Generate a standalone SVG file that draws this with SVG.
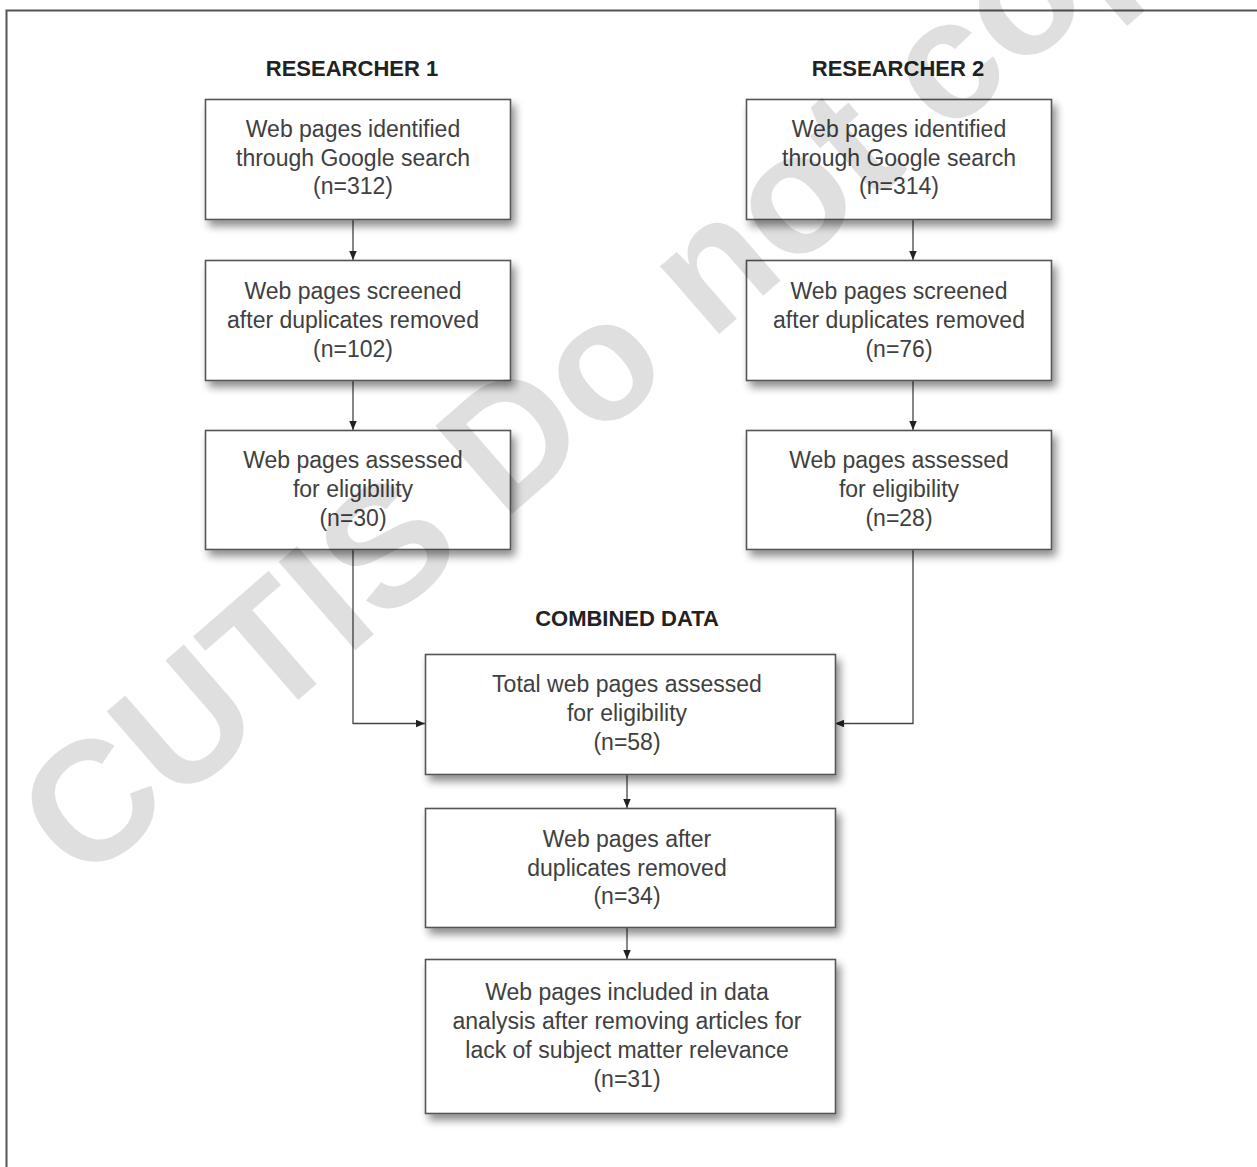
<svg xmlns="http://www.w3.org/2000/svg" width="1257" height="1167" viewBox="0 0 1257 1167">
<style>
.box{fill:#fff;stroke:#555;stroke-width:1.6}
.t{font-family:"Liberation Sans",Arial,sans-serif;font-size:23px;fill:#404040;text-anchor:middle}
.h{font-family:"Liberation Sans",Arial,sans-serif;font-size:22px;font-weight:bold;fill:#222;text-anchor:middle}
.c{fill:none;stroke:#444;stroke-width:1.3}
.wm{font-family:"Liberation Sans",Arial,sans-serif;font-size:170px;font-weight:bold;fill:#000;fill-opacity:0.125}
</style>
<defs>
<filter id="sh" x="-10%" y="-10%" width="130%" height="140%">
<feGaussianBlur in="SourceAlpha" stdDeviation="4"/>
<feOffset dx="4" dy="6" result="b"/>
<feComponentTransfer><feFuncA type="linear" slope="0.45"/></feComponentTransfer>
<feMerge><feMergeNode/><feMergeNode in="SourceGraphic"/></feMerge>
</filter>
<marker id="ar" markerUnits="userSpaceOnUse" markerWidth="10" markerHeight="8" refX="9" refY="3.75" orient="auto">
<path d="M0,0 L9,3.75 L0,7.5 Z" fill="#222"/>
</marker>
</defs>
<rect width="1257" height="1167" fill="#fff"/>
<path d="M6.5,1167 V10.5 H1257" fill="none" stroke="#555" stroke-width="2"/>

<g id="headings">
<text class="h" x="352" y="76">RESEARCHER 1</text>
<text class="h" x="898" y="76">RESEARCHER 2</text>
<text class="h" x="627" y="626">COMBINED DATA</text>
</g>

<g id="connectors">
<path class="c" d="M353,219 V260" marker-end="url(#ar)"/>
<path class="c" d="M353,380 V430" marker-end="url(#ar)"/>
<path class="c" d="M353,549 V723.5 H425" marker-end="url(#ar)"/>
<path class="c" d="M913,219 V260" marker-end="url(#ar)"/>
<path class="c" d="M913,380 V430" marker-end="url(#ar)"/>
<path class="c" d="M913,549 V723.5 H835" marker-end="url(#ar)"/>
<path class="c" d="M627,774 V808" marker-end="url(#ar)"/>
<path class="c" d="M627,927 V959" marker-end="url(#ar)"/>
</g>

<g id="r1b1"><rect class="box" x="205.5" y="99.5" width="305" height="120" filter="url(#sh)"/>
<text class="t" x="353" y="137">Web pages identified</text><text class="t" x="353" y="166">through Google search</text><text class="t" x="353" y="194">(n=312)</text></g>
<g id="r1b2"><rect class="box" x="205.5" y="260.5" width="305" height="120" filter="url(#sh)"/>
<text class="t" x="353" y="299">Web pages screened</text><text class="t" x="353" y="328">after duplicates removed</text><text class="t" x="353" y="357">(n=102)</text></g>
<g id="r1b3"><rect class="box" x="205.5" y="430.5" width="305" height="119" filter="url(#sh)"/>
<text class="t" x="353" y="468">Web pages assessed</text><text class="t" x="353" y="497">for eligibility</text><text class="t" x="353" y="526">(n=30)</text></g>

<g id="r2b1"><rect class="box" x="746.5" y="99.5" width="305" height="120" filter="url(#sh)"/>
<text class="t" x="899" y="137">Web pages identified</text><text class="t" x="899" y="166">through Google search</text><text class="t" x="899" y="194">(n=314)</text></g>
<g id="r2b2"><rect class="box" x="746.5" y="260.5" width="305" height="120" filter="url(#sh)"/>
<text class="t" x="899" y="299">Web pages screened</text><text class="t" x="899" y="328">after duplicates removed</text><text class="t" x="899" y="357">(n=76)</text></g>
<g id="r2b3"><rect class="box" x="746.5" y="430.5" width="305" height="119" filter="url(#sh)"/>
<text class="t" x="899" y="468">Web pages assessed</text><text class="t" x="899" y="497">for eligibility</text><text class="t" x="899" y="526">(n=28)</text></g>

<g id="cb1"><rect class="box" x="425.5" y="654.5" width="410" height="120" filter="url(#sh)"/>
<text class="t" x="627" y="692">Total web pages assessed</text><text class="t" x="627" y="721">for eligibility</text><text class="t" x="627" y="750">(n=58)</text></g>
<g id="cb2"><rect class="box" x="425.5" y="808.5" width="410" height="119" filter="url(#sh)"/>
<text class="t" x="627" y="847">Web pages after</text><text class="t" x="627" y="876">duplicates removed</text><text class="t" x="627" y="904">(n=34)</text></g>
<g id="cb3"><rect class="box" x="425.5" y="959.5" width="410" height="154" filter="url(#sh)"/>
<text class="t" x="627" y="1000">Web pages included in data</text><text class="t" x="627" y="1029">analysis after removing articles for</text><text class="t" x="627" y="1058">lack of subject matter relevance</text><text class="t" x="627" y="1087">(n=31)</text></g>

<g id="watermark">
<text class="wm" transform="translate(83,887) rotate(-41)">CUTIS Do not copy</text>
</g>
</svg>
